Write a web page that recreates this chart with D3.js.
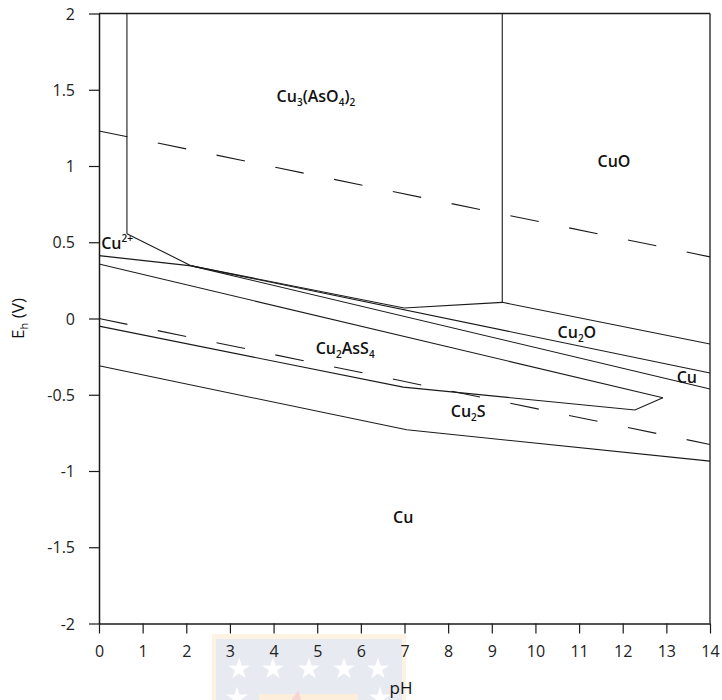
<!DOCTYPE html>
<html>
<head>
<meta charset="utf-8">
<script src="https://cdn.jsdelivr.net/npm/d3@7"></script>
<style>
  html, body { margin: 0; padding: 0; background: #fff; }
  svg { display: block; }
  text { font-family: "Open Sans", "Noto Sans", sans-serif; }
</style>
</head>
<body>
<svg id="chart" width="722" height="700"></svg>
<script>
// ---- data (pH, Eh in V) ----
const xTicks = [0,1,2,3,4,5,6,7,8,9,10,11,12,13,14];
const yTicks = [-2,-1.5,-1,-0.5,0,0.5,1,1.5,2];
const yTickLabels = ["-2","-1.5","-1","-0.5","0","0.5","1","1.5","2"];

// solid stability-field boundaries
const boundaryIds = ["cu2+_vertical","cu2+_diag","cu2+_lower","cu3aso4_bottom","cuo_vertical","cu2o_upper","cu2o_lower","cu_upper","cu2ass4_upper","cu2s_lower"];
const boundaryPH = [
  [0.64, 0.64],
  [0.64, 2.12],
  [0, 2.12],
  [2.12, 6.99, 9.24, 14],
  [9.24, 9.24],
  [2.12, 14],
  [2.12, 14],
  [0, 12.92],
  [0, 6.97, 12.28, 12.92],
  [0, 7.05, 14]
];
const boundaryEh = [
  [2, 0.555],
  [0.555, 0.345],
  [0.412, 0.345],
  [0.345, 0.069, 0.106, -0.167],
  [2, 0.106],
  [0.345, -0.357],
  [0.345, -0.462],
  [0.357, -0.52],
  [-0.05, -0.45, -0.60, -0.52],
  [-0.31, -0.73, -0.935]
];

// water stability lines (dashed)
const waterPH = [[0, 14], [0, 14]];
const waterEh = [[1.23, 0.404], [0, -0.826]];

// field labels
const labelParts = [
  [["Cu",""],["3","sub"],["(AsO",""],["4","sub"],[")",""],["2","sub"]],
  [["CuO",""]],
  [["Cu",""],["2+","sup"]],
  [["Cu",""],["2","sub"],["O",""]],
  [["Cu",""]],
  [["Cu",""],["2","sub"],["AsS",""],["4","sub"]],
  [["Cu",""],["2","sub"],["S",""]],
  [["Cu",""]]
];
const labelPH = [4.97, 11.8, 0.05, 10.95, 13.47, 5.64, 8.46, 6.97];
const labelEh = [1.42, 0.993, 0.456, -0.128, -0.42, -0.233, -0.646, -1.34];
const labelAnchor = ["middle","middle","start","middle","middle","middle","middle","middle"];

// ---- layout ----
const svg = d3.select("#chart");
const x = d3.scaleLinear().domain([0, 14]).range([99, 710]);
const y = d3.scaleLinear().domain([-2, 2]).range([623.5, 13.5]);
const ink = "#1a1a1a";

// watermark (faint logo at bottom)
const wm = svg.append("g").attr("opacity", 0.75);
wm.append("rect").attr("x", 212).attr("y", 634).attr("width", 194).attr("height", 70).attr("fill", "#fcefd9");
wm.append("rect").attr("x", 216).attr("y", 639).attr("width", 186).attr("height", 65).attr("fill", "#dfe3ec");
wm.append("rect").attr("x", 259).attr("y", 694).attr("width", 99).attr("height", 10).attr("fill", "#fbe9cf");
wm.append("path").attr("d", "M292,704 C290,698 296,696 298,690 C300,696 302,700 300,704 Z").attr("fill", "#f3c7c4");
const starPath = d3.symbol().type(d3.symbolStar).size(150)();
[239, 273, 309, 344, 378].forEach(cx => {
  wm.append("path").attr("d", starPath).attr("transform", `translate(${cx},669)`).attr("fill", "#ffffff");
});
[237, 380].forEach(cx => {
  wm.append("path").attr("d", starPath).attr("transform", `translate(${cx},698)`).attr("fill", "#ffffff");
});

// frame
svg.append("line").attr("x1", 99).attr("x2", 710).attr("y1", y(2)).attr("y2", y(2)).attr("stroke", ink).attr("stroke-width", 1.3);
svg.append("line").attr("x1", 710).attr("x2", 710).attr("y1", y(2)).attr("y2", y(-2)).attr("stroke", ink).attr("stroke-width", 1.3);

// axes
const xAxis = d3.axisBottom(x).tickValues(xTicks).tickSize(10).tickSizeOuter(0).tickPadding(12);
const yAxis = d3.axisLeft(y).tickValues(yTicks).tickFormat((d, i) => yTickLabels[i]).tickSize(10).tickSizeOuter(0).tickPadding(14);

const gx = svg.append("g").attr("transform", `translate(0,${y(-2)})`).call(xAxis);
const gy = svg.append("g").attr("transform", `translate(${x(0)},0)`).call(yAxis);
[gx, gy].forEach(g => {
  g.select(".domain").attr("stroke", ink).attr("stroke-width", 1.5);
  g.selectAll(".tick line").attr("stroke", ink).attr("stroke-width", 1.2);
  g.selectAll(".tick text").attr("fill", "#222").attr("font-size", 16)
    .attr("font-family", "'Open Sans', sans-serif").attr("font-weight", 400);
});
gy.selectAll(".tick text").attr("dy", "0.35em");

// axis titles
svg.append("text").attr("x", 401).attr("y", 694).attr("text-anchor", "middle")
  .attr("font-size", 17).attr("fill", "#111").text("pH");
const yt = svg.append("text").attr("transform", `translate(24,${y(0)}) rotate(-90)`)
  .attr("text-anchor", "middle").attr("font-size", 17).attr("fill", "#111");
yt.append("tspan").text("E");
yt.append("tspan").attr("font-size", 11).attr("dy", 4).text("h");
yt.append("tspan").attr("dy", -4).text(" (V)");

// lines
const line = d3.line().x(d => x(d[0])).y(d => y(d[1]));
boundaryIds.forEach((id, i) => {
  const pts = boundaryPH[i].map((p, j) => [p, boundaryEh[i][j]]);
  svg.append("path").attr("d", line(pts)).attr("fill", "none")
    .attr("stroke", ink).attr("stroke-width", 1.1).attr("stroke-linejoin", "miter");
});
waterPH.forEach((arr, i) => {
  const pts = arr.map((p, j) => [p, waterEh[i][j]]);
  svg.append("path").attr("d", line(pts)).attr("fill", "none")
    .attr("stroke", ink).attr("stroke-width", 1.1).attr("stroke-dasharray", "29,31");
});

// labels
labelParts.forEach((parts, i) => {
  const t = svg.append("text").attr("x", x(labelPH[i])).attr("y", y(labelEh[i]))
    .attr("text-anchor", labelAnchor[i]).attr("font-size", 16).attr("font-weight", 600).attr("fill", "#111");
  let shift = 0;
  parts.forEach(([s, kind]) => {
    const ts = t.append("tspan").text(s);
    let target = 0;
    if (kind === "sub") { ts.attr("font-size", 10); target = 4; }
    else if (kind === "sup") { ts.attr("font-size", 10); target = -7; }
    ts.attr("dy", target - shift);
    shift = target;
  });
});
</script>
</body>
</html>
